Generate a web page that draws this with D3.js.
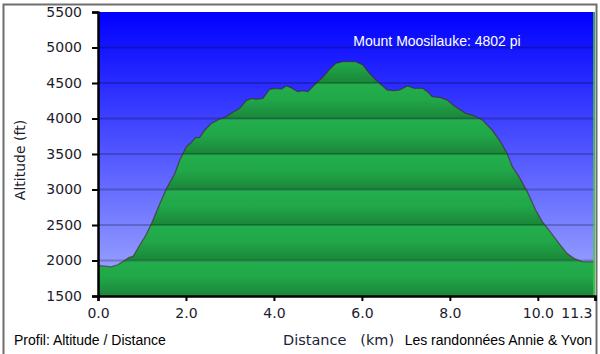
<!DOCTYPE html>
<html>
<head>
<meta charset="utf-8">
<script src="https://cdn.jsdelivr.net/npm/d3@7"></script>
<style>
  body { margin: 0; background: #fff; }
</style>
</head>
<body>
<div id="chart"></div>
<script>
// profile data (km / ft)
const distKm = [0.00, 0.15, 0.30, 0.45, 0.57, 0.70, 0.80, 0.95, 1.07, 1.22, 1.41, 1.56, 1.75, 1.86, 2.01, 2.12, 2.22, 2.31, 2.43, 2.58,
  2.77, 2.90, 3.00, 3.22, 3.37, 3.49, 3.60, 3.75, 3.90, 4.05, 4.17, 4.28, 4.39, 4.54, 4.66, 4.77, 4.96, 5.11, 5.26, 5.41,
  5.56, 5.71, 5.86, 6.02, 6.17, 6.32, 6.47, 6.58, 6.73, 6.85, 7.04, 7.19, 7.38, 7.49, 7.60, 7.79, 7.94, 8.10, 8.36, 8.51,
  8.74, 8.96, 9.15, 9.30, 9.42, 9.57, 9.76, 9.95, 10.10, 10.25, 10.48, 10.66, 10.82, 11.00, 11.30];
const altFt = [1930, 1920, 1910, 1940, 1985, 2040, 2060, 2218, 2335, 2524, 2806, 3017, 3228, 3415, 3603, 3660, 3735, 3730, 3838, 3932,
  3993, 4020, 4063, 4143, 4251, 4284, 4270, 4284, 4411, 4425, 4415, 4458, 4434, 4378, 4392, 4378, 4496, 4580, 4690, 4778,
  4801, 4802, 4801, 4755, 4637, 4542, 4458, 4401, 4392, 4401, 4458, 4425, 4425, 4378, 4307, 4293, 4260, 4176, 4073, 4049,
  3979, 3838, 3674, 3510, 3321, 3181, 2970, 2711, 2547, 2430, 2242, 2101, 2031, 1984, 1980];

const xTicks = [0, 2, 4, 6, 8, 10, 11.3];
const yTicks = [1500, 2000, 2500, 3000, 3500, 4000, 4500, 5000, 5500];
const peakLabel = "Mount Moosilauke: 4802 pi";

const data = distKm.map((d, i) => ({ d: d, a: altFt[i] }));

const W = 600, H = 354;
const plot = { left: 98, right: 595, top: 12, bottom: 296 };

const svg = d3.select("#chart").append("svg")
  .attr("width", W)
  .attr("height", H);

const defs = svg.append("defs");

// sky gradient
const sky = defs.append("linearGradient")
  .attr("id", "sky")
  .attr("x1", 0).attr("y1", 0).attr("x2", 0).attr("y2", 1);
sky.append("stop").attr("offset", "0%").attr("stop-color", "#0000ff");
sky.append("stop").attr("offset", "100%").attr("stop-color", "#a4aeff");

// green band gradient (one per 500 ft band)
const band = defs.append("linearGradient")
  .attr("id", "band")
  .attr("x1", 0).attr("y1", 0).attr("x2", 0).attr("y2", 1);
band.append("stop").attr("offset", "0%").attr("stop-color", "#23ae4c");
band.append("stop").attr("offset", "45%").attr("stop-color", "#21a849");
band.append("stop").attr("offset", "100%").attr("stop-color", "#1a8639");

const x = d3.scaleLinear()
  .domain([0, 11.3])
  .range([plot.left, plot.right]);

const y = d3.scaleLinear()
  .domain([1500, 5500])
  .range([plot.bottom, plot.top]);

// outer frame
svg.append("rect")
  .attr("x", 3.5).attr("y", 4.5)
  .attr("width", 593).attr("height", 360)
  .attr("fill", "none")
  .attr("stroke", "#6e6e6e")
  .attr("stroke-width", 2);

// background
svg.append("rect")
  .attr("x", plot.left).attr("y", plot.top)
  .attr("width", plot.right - plot.left)
  .attr("height", plot.bottom - plot.top)
  .attr("fill", "url(#sky)");

// area
const area = d3.area()
  .x(d => x(d.d))
  .y0(y(1500))
  .y1(d => y(d.a));

defs.append("clipPath")
  .attr("id", "profileClip")
  .append("path")
  .datum(data)
  .attr("d", area);

const bands = svg.append("g").attr("clip-path", "url(#profileClip)");
bands.selectAll("rect")
  .data(yTicks.slice(0, -1))
  .enter()
  .append("rect")
  .attr("x", plot.left)
  .attr("width", plot.right - plot.left)
  .attr("y", d => y(d + 500))
  .attr("height", d => y(d) - y(d + 500))
  .attr("fill", "url(#band)");

// gridlines
svg.append("g")
  .selectAll("line")
  .data(yTicks.slice(1, -1))
  .enter()
  .append("line")
  .attr("x1", plot.left).attr("x2", plot.right)
  .attr("y1", d => y(d)).attr("y2", d => y(d))
  .attr("stroke", "#000")
  .attr("stroke-opacity", 0.22)
  .attr("stroke-width", 2);

// profile outline
const line = d3.line()
  .x(d => x(d.d))
  .y(d => y(d.a));

svg.append("path")
  .datum(data)
  .attr("fill", "none")
  .attr("stroke", "#4a2020")
  .attr("stroke-opacity", 0.6)
  .attr("stroke-width", 1.3)
  .attr("d", line);

// right edge
svg.append("line")
  .attr("x1", plot.right - 1).attr("x2", plot.right - 1)
  .attr("y1", plot.top).attr("y2", plot.bottom)
  .attr("stroke", "#44cc44")
  .attr("stroke-width", 1.5);

// axes
const tickFont = "DejaVu Sans, Verdana, sans-serif";

const yAxis = svg.append("g")
  .attr("transform", `translate(${plot.left},0)`)
  .call(d3.axisLeft(y).tickValues(yTicks).tickSize(6).tickPadding(10).tickFormat(d3.format("d")));
yAxis.select(".domain").attr("stroke", "#000").attr("stroke-width", 2.5);
yAxis.selectAll(".tick line").attr("stroke", "#000").attr("stroke-width", 2);
yAxis.selectAll(".tick text")
  .attr("fill", "#1c1c2c")
  .style("font-family", tickFont)
  .style("font-size", "14px");

const xAxis = svg.append("g")
  .attr("transform", `translate(0,${plot.bottom})`)
  .call(d3.axisBottom(x).tickValues(xTicks).tickSize(5).tickPadding(7).tickFormat(d3.format(".1f")));
xAxis.select(".domain").attr("stroke", "#000").attr("stroke-width", 2.5);
xAxis.selectAll(".tick line").attr("stroke", "#000").attr("stroke-width", 2);
xAxis.selectAll(".tick text")
  .attr("fill", "#1c1c2c")
  .style("font-family", tickFont)
  .style("font-size", "14px")
  .attr("text-anchor", d => d === 11.3 ? "end" : "middle")
  .attr("dx", d => d === 11.3 ? "-3" : "0");

// axis titles
svg.append("text")
  .attr("transform", "translate(25,160) rotate(-90)")
  .attr("text-anchor", "middle")
  .attr("fill", "#1c1c2c")
  .style("font-family", tickFont)
  .style("font-size", "14px")
  .text("Altitude (ft)");

svg.append("text")
  .attr("x", 283).attr("y", 345)
  .attr("fill", "#1c2238")
  .style("font-family", tickFont)
  .style("font-size", "14.5px")
  .attr("xml:space", "preserve")
  .text("Distance   (km)");

svg.append("text")
  .attr("x", 14).attr("y", 345)
  .attr("fill", "#000")
  .style("font-family", "Liberation Sans, Arial, sans-serif")
  .style("font-size", "14px")
  .text("Profil: Altitude / Distance");

svg.append("text")
  .attr("x", 592).attr("y", 345)
  .attr("text-anchor", "end")
  .attr("fill", "#000")
  .style("font-family", "Liberation Sans, Arial, sans-serif")
  .style("font-size", "14px")
  .text("Les randonnées Annie & Yvon");

svg.append("text")
  .attr("x", 437).attr("y", 46)
  .attr("text-anchor", "middle")
  .attr("fill", "#fff")
  .style("font-family", "Liberation Sans, Arial, sans-serif")
  .style("font-size", "14px")
  .text(peakLabel);
</script>
</body>
</html>
